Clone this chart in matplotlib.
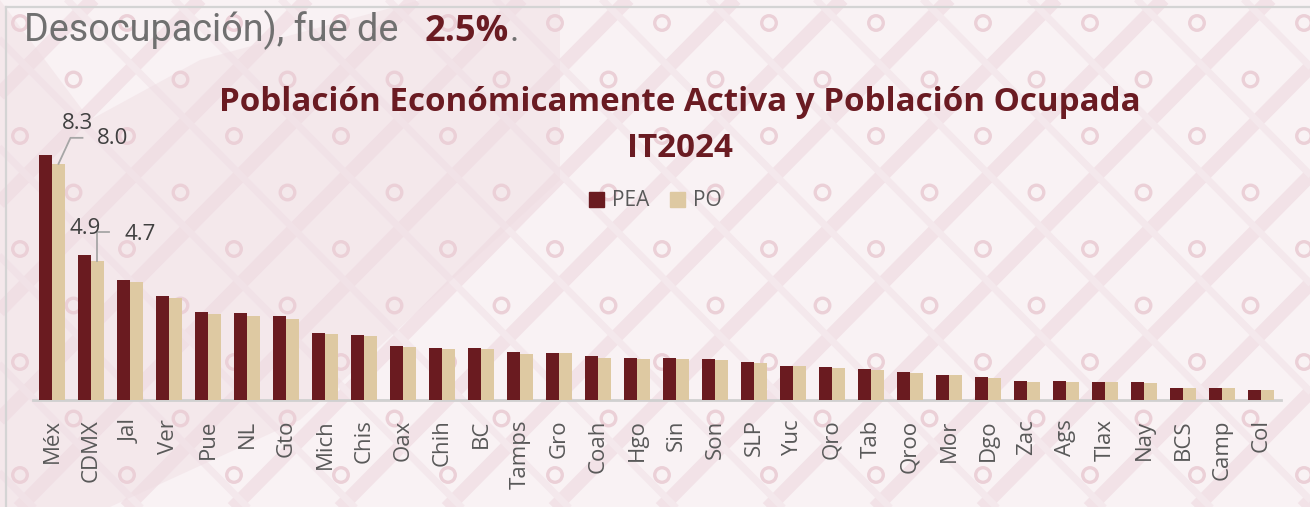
import matplotlib
matplotlib.use("Agg")
import matplotlib.pyplot as plt
from matplotlib.lines import Line2D
from matplotlib.patches import Patch
import numpy as np

# ---------------- data ----------------
states = ["Méx", "CDMX", "Jal", "Ver", "Pue", "NL", "Gto", "Mich", "Chis", "Oax",
          "Chih", "BC", "Tamps", "Gro", "Coah", "Hgo", "Sin", "Son", "SLP", "Yuc",
          "Qro", "Tab", "Qroo", "Mor", "Dgo", "Zac", "Ags", "Tlax", "Nay", "BCS",
          "Camp", "Col"]
pea = [8.3, 4.9, 4.05, 3.52, 2.98, 2.94, 2.85, 2.26, 2.21, 1.82,
       1.76, 1.76, 1.62, 1.58, 1.48, 1.42, 1.43, 1.39, 1.30, 1.16,
       1.13, 1.06, 0.94, 0.85, 0.79, 0.64, 0.64, 0.62, 0.61, 0.42,
       0.42, 0.33]
po = [8.0, 4.7, 3.99, 3.47, 2.92, 2.86, 2.75, 2.24, 2.17, 1.80,
      1.72, 1.73, 1.57, 1.58, 1.42, 1.39, 1.39, 1.36, 1.25, 1.15,
      1.10, 1.03, 0.91, 0.84, 0.76, 0.62, 0.62, 0.60, 0.58, 0.41,
      0.40, 0.33]
labelled = ["Méx", "CDMX"]
series_names = ["PEA", "PO"]
title_lines = ["Población Económicamente Activa y Población Ocupada", "IT2024"]
header_text = "Desocupación), fue de"
header_value = "2.5%"

# ---------------- style ----------------
W, H = 1310, 507
C_PEA = "#6a1b20"
C_PO = "#dec9a2"
C_TXT = "#595959"
C_LBL = "#404040"
C_TITLE = "#6a1b22"
BG = "#f9f2f4"

fig = plt.figure(figsize=(W / 100, H / 100), dpi=100, facecolor=BG)
renderer = fig.canvas.get_renderer()

# decorative background (pattern of the slide)
bg = fig.add_axes([0, 0, 1, 1], zorder=0)
bg.set_xlim(0, W)
bg.set_ylim(H, 0)
bg.axis("off")
rx, ry = [], []
for r in range(10):
    y = 23 + 56.5 * r
    off = 53.5 if r % 2 else 0
    for k in range(-1, 14):
        rx.append(20 + 107 * k + off)
        ry.append(y)
for k in range(-10, 20):
    x0 = 107 * k
    bg.plot([x0, x0 + 560], [H + 20, -40], color="#f2e2e7", lw=10, solid_capstyle="butt", zorder=0)
    bg.plot([x0 + 53, x0 - 507], [H + 20, -40], color="#f4e8ec", lw=5, solid_capstyle="butt", zorder=0)
# pinker swirl on the left side of the slide
bg.fill([0, 0, 110, 300, 560, 560, 420, 200, 90], [0, H, H, 420, 180, 0, 0, 60, 120],
        color="#efdce2", alpha=0.45, lw=0, zorder=0.5)
bg.scatter(rx, ry, s=110, facecolors="none", edgecolors="#ebd0d7", linewidths=2.4, zorder=1)
# slide frame
bg.plot([6, W], [7, 7], color="#d4d4d4", lw=1.6, zorder=2)
bg.plot([6, 6], [7, H], color="#d4d4d4", lw=1.6, zorder=2)

# header text
t1 = bg.text(24, 41, header_text, fontsize=27, family="Roboto", fontweight="normal",
             color="#707070", va="baseline", ha="left", zorder=3)
bb = t1.get_window_extent(renderer)
t1.set_fontsize(27 * 374 / bb.width)
bg.text(425, 41, header_value, fontsize=26, family="Open Sans", fontweight="bold",
        color=C_TITLE, va="baseline", ha="left", zorder=3)
bg.text(510, 41, ".", fontsize=26, family="Roboto",
        color="#707070", va="baseline", ha="left", zorder=3)

# title (font size fitted to the reference width)
tt = bg.text(680, 111, title_lines[0], fontsize=22, family="Open Sans", fontweight="bold",
             color=C_TITLE, ha="center", va="baseline", zorder=3)
tw = tt.get_window_extent(renderer).width
tsize = 22 * 920 / tw
tt.set_fontsize(tsize)
bg.text(680, 157, title_lines[1], fontsize=tsize, family="Open Sans", fontweight="bold",
        color=C_TITLE, ha="center", va="baseline", zorder=3)

# ---------------- chart ----------------
ppu = 29.52  # pixels per unit
ymax = 9
ax = fig.add_axes([32.5 / W, (H - 400) / H, 1248 / W, ymax * ppu / H], zorder=2)
ax.patch.set_alpha(0)
x = np.arange(len(states))
w = 0.333
ax.bar(x - w / 2, pea, w, color=C_PEA, zorder=3)
ax.bar(x + w / 2, po, w, color=C_PO, zorder=3)
ax.set_xlim(-0.5, len(states) - 0.5)
ax.set_ylim(0, ymax)
for s in ["top", "right", "left"]:
    ax.spines[s].set_visible(False)
ax.spines["bottom"].set_color("#d0d0d0")
ax.spines["bottom"].set_linewidth(2)
ax.set_yticks([])
ax.set_xticks(x)
ax.set_xticklabels(states, rotation=90, fontsize=16, family="Open Sans", color=C_TXT)
ax.tick_params(axis="x", length=0, pad=14)

# data labels with leader lines
fig.canvas.draw()
def disp(xd, yd):
    return ax.transData.transform((xd, yd))

pea_off = {"Méx": (32, 31), "CDMX": (0.5, 27)}
po_off = {"Méx": (54, 25), "CDMX": (43, 27)}
leader = {"Méx": [(0, 0), (12, 26), (24, 26)], "CDMX": [(0, 0), (0, 29), (12, 29)]}
for name in labelled:
    i = states.index(name)
    px, py = disp(i - w / 2, pea[i])
    fig.text((px + pea_off[name][0]) / W, (py + pea_off[name][1]) / H, f"{pea[i]:.1f}",
             fontsize=16, family="Open Sans", color=C_LBL, ha="center", va="center", zorder=5)
    qx, qy = disp(i + w / 2, po[i])
    fig.text((qx + po_off[name][0]) / W, (qy + po_off[name][1]) / H, f"{po[i]:.1f}",
             fontsize=16, family="Open Sans", color=C_LBL, ha="center", va="center", zorder=5)
    lx = [(qx + a) / W for a, b in leader[name]]
    ly = [(qy + b) / H for a, b in leader[name]]
    fig.add_artist(Line2D(lx, ly, color="#a6a6a6", lw=1.3, transform=fig.transFigure, zorder=5))

# legend
handles = [Patch(color=C_PEA), Patch(color=C_PO)]
fig.legend(handles, series_names, loc="center", bbox_to_anchor=(655 / W, 1 - 201 / H),
           ncol=2, frameon=False, handlelength=0.75, handleheight=0.75, handletextpad=0.35,
           columnspacing=1.0, prop={"family": "Open Sans", "size": 15}, labelcolor=C_TXT)

fig.savefig("out.png", dpi=100, facecolor=BG)
